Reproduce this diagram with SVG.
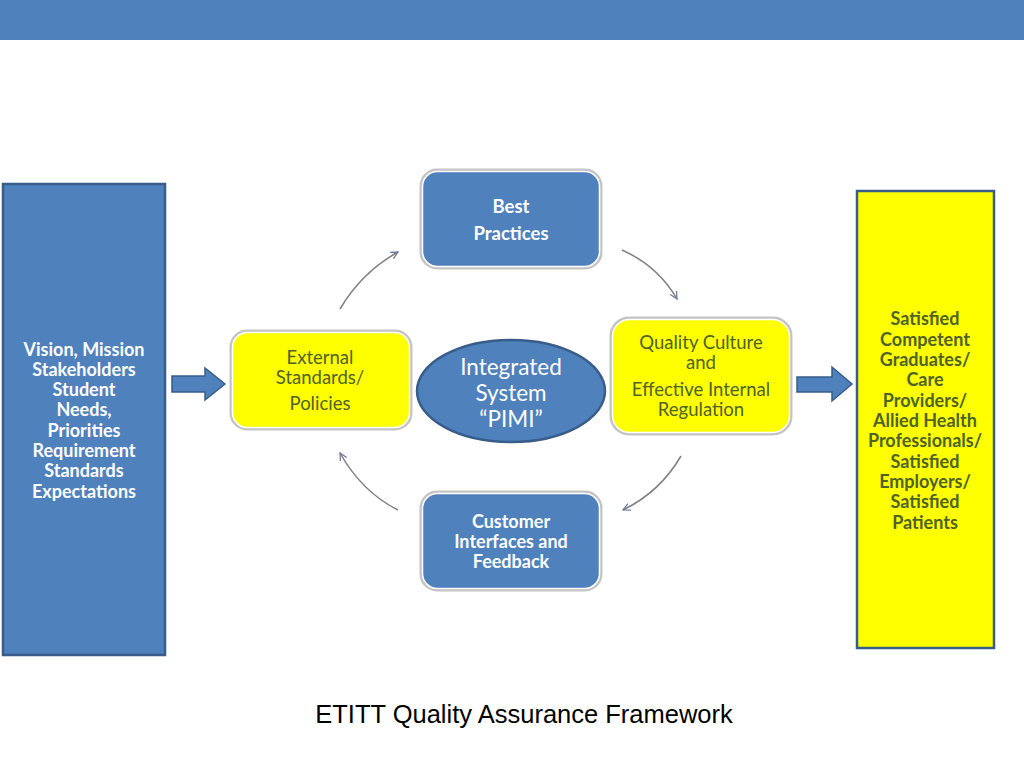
<svg xmlns="http://www.w3.org/2000/svg" width="1024" height="768" viewBox="0 0 1024 768">
<defs>
<style>
.blue{fill:#4f81bd}
.yel{fill:#ffff00}
.rbox{stroke:#c4c4c4;stroke-width:3}
.rin{fill:none;stroke:#ffffff;stroke-width:1.5}
.side{stroke:#385d8a;stroke-width:2.5}
.bt{font-family:Lato,"Open Sans",sans-serif;font-weight:bold;font-size:18px;text-anchor:middle;dominant-baseline:central}
.wt{fill:#ffffff}
.gt{fill:#4f6228}
.nt{font-family:Lato,"Open Sans",sans-serif;font-size:18.5px;text-anchor:middle;dominant-baseline:central}
.big{font-family:Lato,"Open Sans",sans-serif;font-size:22.5px;text-anchor:middle;dominant-baseline:central;fill:#ffffff}
.arc{fill:none;stroke:#7f7f7f;stroke-width:1.5;marker-end:url(#open)}
.blk{fill:#4f81bd;stroke:#385d8a;stroke-width:1.5}
</style>
<marker id="open" viewBox="0 0 10 10" refX="9" refY="5" markerWidth="9" markerHeight="9" markerUnits="userSpaceOnUse" orient="auto">
<path d="M1,1 L9,5 L1,9" fill="none" stroke="#6f7aa0" stroke-width="1.4"/>
</marker>
</defs>
<rect x="0" y="0" width="1024" height="768" fill="#ffffff"/>
<rect x="0" y="0" width="1024" height="40" fill="#4f81bd"/>

<g id="inputs">
<rect x="3" y="184" width="162" height="471" class="blue side"/>
<text class="bt wt"><tspan x="84" y="349">Vision, Mission</tspan><tspan x="84" y="369">Stakeholders</tspan><tspan x="84" y="389">Student</tspan><tspan x="84" y="409">Needs,</tspan><tspan x="84" y="430">Priorities</tspan><tspan x="84" y="450">Requirement</tspan><tspan x="84" y="470">Standards</tspan><tspan x="84" y="491">Expectations</tspan></text>
</g>

<g id="outputs">
<rect x="857" y="191" width="137" height="457" class="yel side"/>
<text class="bt gt"><tspan x="925" y="318">Satisfied</tspan><tspan x="925" y="339">Competent</tspan><tspan x="925" y="359">Graduates/</tspan><tspan x="925" y="379">Care</tspan><tspan x="925" y="400">Providers/</tspan><tspan x="925" y="420">Allied Health</tspan><tspan x="925" y="440">Professionals/</tspan><tspan x="925" y="461">Satisfied</tspan><tspan x="925" y="481">Employers/</tspan><tspan x="925" y="501">Satisfied</tspan><tspan x="925" y="522">Patients</tspan></text>
</g>

<g id="best-practices">
<rect x="421" y="170" width="180" height="98" rx="16" class="blue rbox"/>
<rect x="422.5" y="171.5" width="177" height="95" rx="15" class="rin"/>
<text class="bt wt" style="font-size:18.5px"><tspan x="511" y="206">Best</tspan><tspan x="511" y="233">Practices</tspan></text>
</g>

<g id="external-standards">
<rect x="231" y="331" width="180" height="98" rx="16" class="yel rbox"/>
<rect x="232.5" y="332.5" width="177" height="95" rx="15" class="rin"/>
<text class="nt gt"><tspan x="320" y="357">External</tspan><tspan x="320" y="377">Standards/</tspan><tspan x="320" y="403">Policies</tspan></text>
</g>

<g id="quality-culture">
<rect x="611" y="318" width="180" height="116" rx="18" class="yel rbox"/>
<rect x="612.5" y="319.5" width="177" height="113" rx="17" class="rin"/>
<text class="nt gt" style="font-size:18.5px"><tspan x="701" y="342">Quality Culture</tspan><tspan x="701" y="362">and</tspan><tspan x="701" y="389">Effective Internal</tspan><tspan x="701" y="409">Regulation</tspan></text>
</g>

<g id="customer-feedback">
<rect x="421" y="492" width="180" height="98" rx="16" class="blue rbox"/>
<rect x="422.5" y="493.5" width="177" height="95" rx="15" class="rin"/>
<text class="bt wt" style="font-size:18px"><tspan x="511" y="521">Customer</tspan><tspan x="511" y="541">Interfaces and</tspan><tspan x="511" y="561">Feedback</tspan></text>
</g>

<g id="integrated-system">
<ellipse cx="511" cy="391" rx="94" ry="51" fill="#4f81bd" stroke="#385d8a" stroke-width="2.5"/>
<text class="big"><tspan x="511" y="366">Integrated</tspan><tspan x="511" y="392">System</tspan><tspan x="511" y="418">“PIMI”</tspan></text>
</g>

<g id="connectors">
<path class="arc" d="M340,309 Q362,272 398,252"/>
<path class="arc" d="M622,250 Q658,266 677,299"/>
<path class="arc" d="M681,456 Q660,492 623,510"/>
<path class="arc" d="M398,510 Q362,492 340,453"/>
<path class="blk" d="M172,376 L205,376 L205,368 L225,384 L205,400 L205,392 L172,392 Z"/>
<path class="blk" d="M797,377 L832,377 L832,367 L852,384 L832,401 L832,392 L797,392 Z"/>
</g>

<text x="524" y="723" font-family="Liberation Sans, Arial, sans-serif" font-size="25.5" text-anchor="middle" fill="#000000">ETITT Quality Assurance Framework</text>
</svg>
